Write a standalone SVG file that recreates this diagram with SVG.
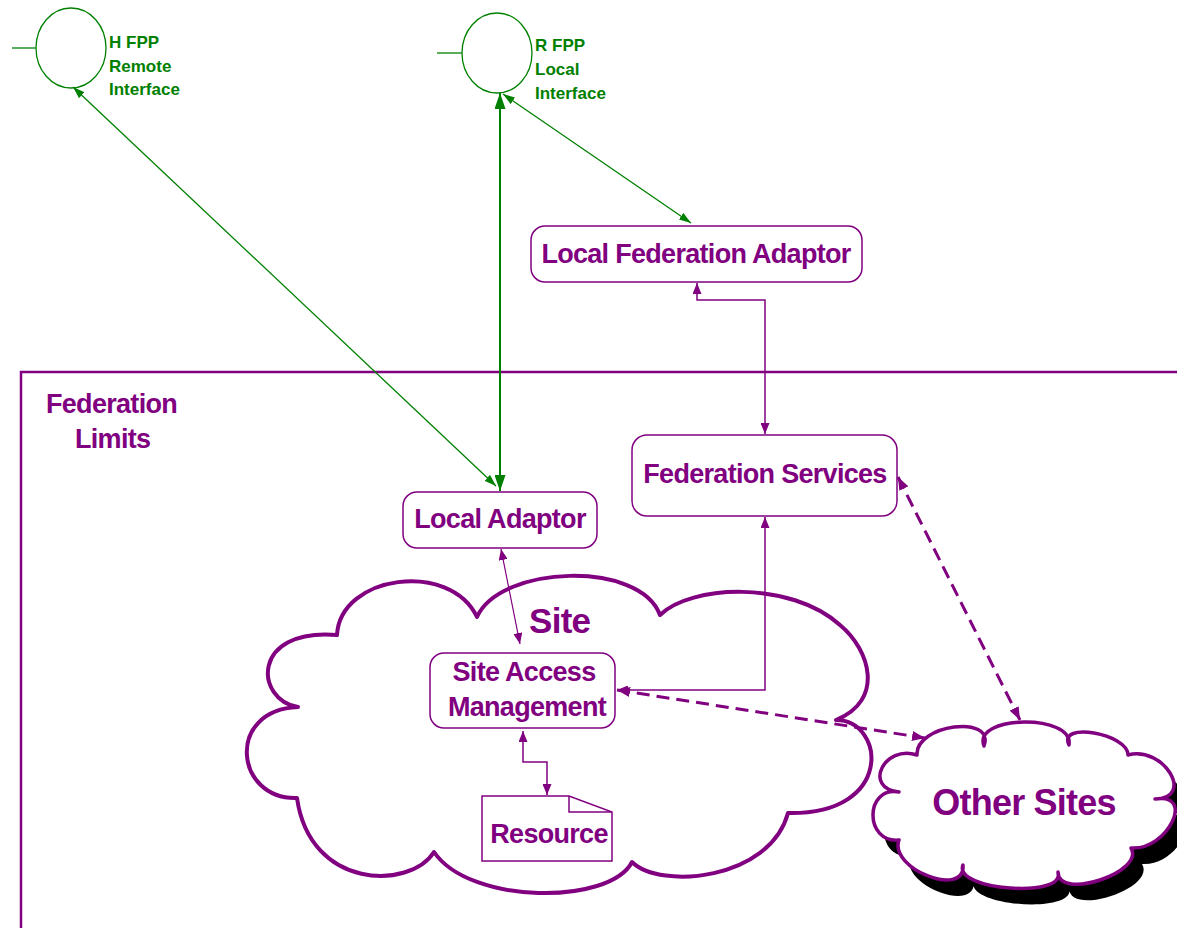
<svg xmlns="http://www.w3.org/2000/svg" width="1177" height="928" viewBox="0 0 1177 928">
<style>
.bg{fill:#ffffff}
.lbl{font-family:"Liberation Sans",Arial,sans-serif;font-weight:bold;fill:#800080;font-size:27px;letter-spacing:-0.7px}
.glbl{font-family:"Liberation Sans",Arial,sans-serif;font-weight:bold;fill:#008000;font-size:17px}
.box{fill:#ffffff;stroke:#800080;stroke-width:1.5}
.cloud{fill:#ffffff;stroke:#800080;stroke-width:4;stroke-linejoin:round}
.iface{fill:#ffffff;stroke:#008000;stroke-width:1.3}
.gline{fill:none;stroke:#008000;stroke-width:1.3}
.pline{fill:none;stroke:#800080;stroke-width:1.5}
.dline{fill:none;stroke:#800080;stroke-width:3;stroke-dasharray:13 7}
</style>
<defs>
<marker id="gs" markerUnits="userSpaceOnUse" markerWidth="12" markerHeight="8" refX="12" refY="4" orient="auto-start-reverse"><path d="M0,0 L12,4 L0,8 z" fill="#008000"/></marker>
<marker id="gl" markerUnits="userSpaceOnUse" markerWidth="16" markerHeight="11" refX="16" refY="5.5" orient="auto-start-reverse"><path d="M0,0 L16,5.5 L0,11 z" fill="#008000"/></marker>
<marker id="ps" markerUnits="userSpaceOnUse" markerWidth="11" markerHeight="9" refX="11" refY="4.5" orient="auto-start-reverse"><path d="M0,0 L11,4.5 L0,9 z" fill="#800080"/></marker>
<marker id="pd" markerUnits="userSpaceOnUse" markerWidth="13" markerHeight="10" refX="13" refY="5" orient="auto-start-reverse"><path d="M0,0 L13,5 L0,10 z" fill="#800080"/></marker>
<path id="oscloud" d="M 917 755 C 915 724.6, 995.4 713.8, 984 746 C 972.2 714.8, 1074.2 713.6, 1069 745 C 1057.1 721.3, 1127.9 733.3, 1128 755 C 1163.3 745.3, 1195.7 798.1, 1155 799 C 1196.1 792.1, 1167.3 850.9, 1131 848 C 1145.6 872.3, 1058 901.1, 1058 872 C 1066.8 898.7, 952.8 890.3, 963 865 C 965.4 898.8, 888.6 868.8, 899 840 C 864.3 843.5, 864.3 785.9, 899 792 C 862.5 788.4, 884.1 744, 917 755 Z"/>
</defs>
<rect class="bg" x="0" y="0" width="1177" height="928"/>

<g id="federation-limits">
<rect x="21" y="372" width="1170" height="580" fill="none" stroke="#800080" stroke-width="2.5"/>
<text class="lbl" x="46" y="413">Federation</text>
<text class="lbl" x="75" y="448">Limits</text>
</g>

<g id="site">
<path class="cloud" d="M 298 707 C 255 700, 250 628, 337 635 C 340 575, 450 560, 477 617 C 500 565, 640 560, 660 615 C 690 585, 790 580, 840 625 C 870 650, 885 700, 836 720 C 885 720, 895 815, 788 813 C 770 880, 660 890, 632 862 C 610 905, 470 905, 434 852 C 410 890, 310 890, 297 798 C 235 800, 225 710, 298 707 Z"/>
<text class="lbl" x="529" y="633" style="font-size:35px">Site</text>
</g>

<g id="other-sites">
<use href="#oscloud" fill="#000000" transform="translate(11,16)"/>
<use href="#oscloud" class="cloud" style="stroke-width:3.5"/>
<text class="lbl" x="1024" y="815" text-anchor="middle" style="font-size:36px;letter-spacing:-0.8px">Other Sites</text>
</g>

<g id="h-fpp">
<line x1="12" y1="48" x2="36" y2="48" stroke="#008000" stroke-width="1.3"/>
<ellipse class="iface" cx="71" cy="48" rx="35" ry="40"/>
<text class="glbl" x="109" y="48">H FPP</text>
<text class="glbl" x="109" y="72">Remote</text>
<text class="glbl" x="109" y="95">Interface</text>
</g>

<g id="r-fpp">
<line x1="437" y1="53" x2="462" y2="53" stroke="#008000" stroke-width="1.3"/>
<ellipse class="iface" cx="497" cy="53" rx="35" ry="40"/>
<text class="glbl" x="535" y="51">R FPP</text>
<text class="glbl" x="535" y="75">Local</text>
<text class="glbl" x="535" y="99">Interface</text>
</g>

<g id="local-federation-adaptor">
<rect class="box" x="531" y="226" width="331" height="56" rx="14"/>
<text class="lbl" x="696" y="263" text-anchor="middle">Local Federation Adaptor</text>
</g>

<g id="federation-services">
<rect class="box" x="632" y="435" width="265" height="81" rx="15"/>
<text class="lbl" x="765" y="483" text-anchor="middle">Federation Services</text>
</g>

<g id="local-adaptor">
<rect class="box" x="403" y="492" width="194" height="56" rx="14"/>
<text class="lbl" x="500" y="528" text-anchor="middle">Local Adaptor</text>
</g>

<g id="site-access-management">
<rect class="box" x="430" y="653" width="185" height="75" rx="14"/>
<text class="lbl" x="524" y="681" text-anchor="middle">Site Access</text>
<text class="lbl" x="527" y="716" text-anchor="middle">Management</text>
</g>

<g id="resource">
<path class="box" d="M 482 796 L 569 796 L 612 812 L 612 861 L 482 861 Z"/>
<path fill="none" stroke="#800080" stroke-width="1.5" d="M 569 796 L 569 812 L 612 812"/>
<text class="lbl" x="549" y="843" text-anchor="middle">Resource</text>
</g>

<g id="connectors">
<path class="gline" d="M 73 87 L 496 486" marker-start="url(#gs)" marker-end="url(#gs)"/>
<path class="gline" style="stroke-width:2" d="M 500 93 L 500 491" marker-start="url(#gl)" marker-end="url(#gl)"/>
<path class="gline" d="M 503 94 L 691 223" marker-start="url(#gs)" marker-end="url(#gs)"/>
<path class="pline" d="M 697 283 L 697 300 L 765 300 L 765 434" marker-start="url(#ps)" marker-end="url(#ps)"/>
<path class="pline" style="stroke-width:1.2" d="M 501 549 L 520 644" marker-start="url(#ps)" marker-end="url(#ps)"/>
<path class="pline" d="M 523 731 L 523 762 L 547 762 L 547 795" marker-start="url(#ps)" marker-end="url(#ps)"/>
<path class="pline" d="M 765 517 L 765 690 L 617 690" marker-start="url(#ps)" marker-end="url(#ps)"/>
<path class="dline" d="M 617 690 L 925 738" marker-start="url(#pd)" marker-end="url(#pd)"/>
<path class="dline" d="M 898 477 L 1020 720" marker-start="url(#pd)" marker-end="url(#pd)"/>
</g>
</svg>
